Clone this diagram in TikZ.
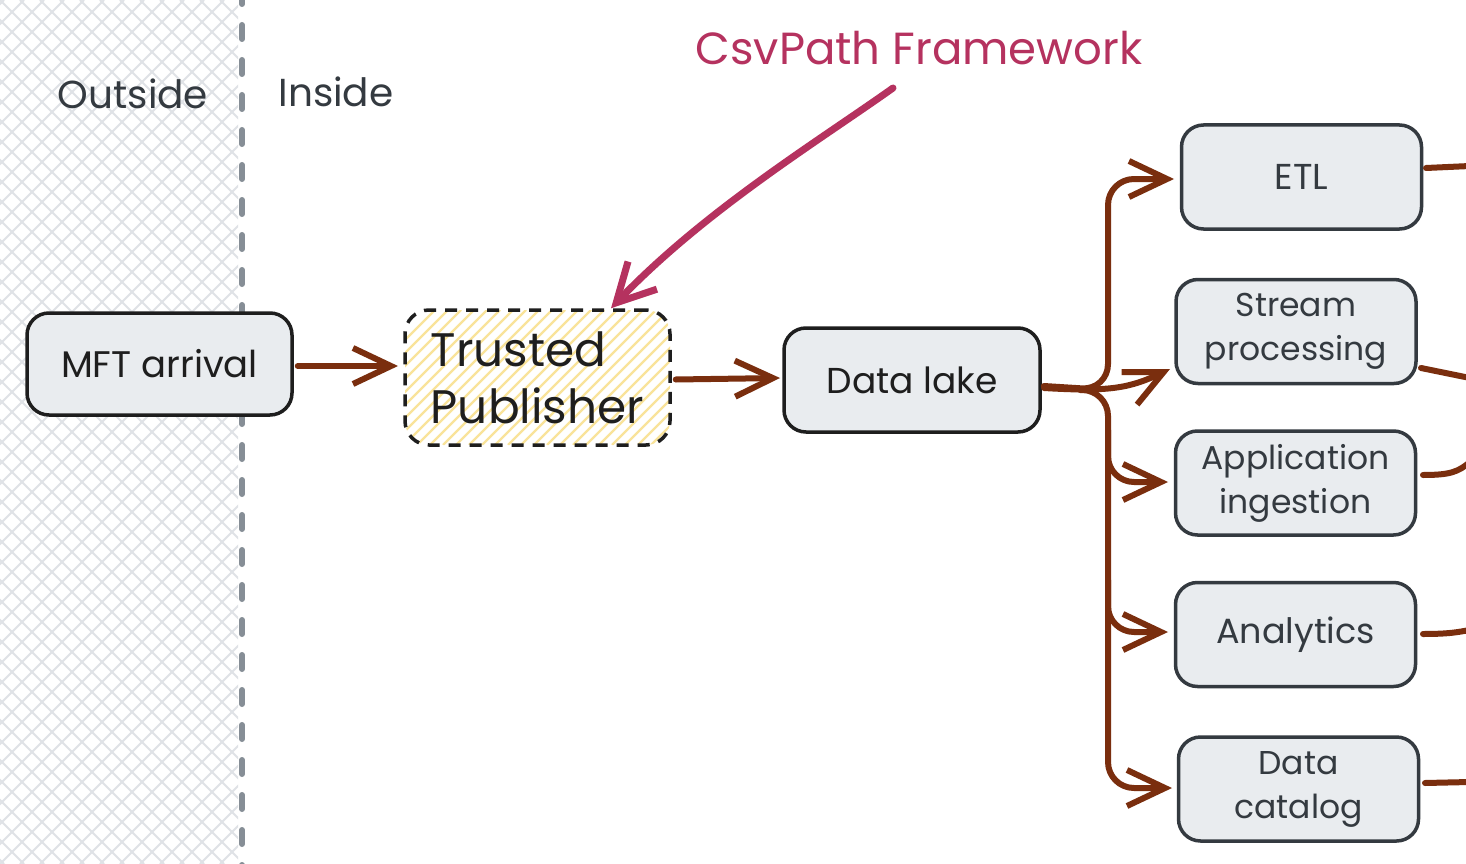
\documentclass[tikz,border=0pt]{standalone}
\usepackage{fontspec}
\setmainfont{Poppins}
\usetikzlibrary{arrows.meta}
\definecolor{boxfill}{HTML}{E9ECEF}
\definecolor{boxline}{HTML}{343A40}
\definecolor{darkline}{HTML}{1E1E1E}
\definecolor{flow}{HTML}{7A2E0E}
\definecolor{accent}{HTML}{B5325F}
\definecolor{hatchgray}{HTML}{DFE2E6}
\definecolor{sepgray}{HTML}{868E96}
\definecolor{hatchyellow}{HTML}{F9E39A}
\tikzset{
  box/.style={draw=boxline, fill=boxfill, line width=3.5pt, rounded corners=22pt,
    minimum width=240pt, minimum height=104pt, align=center, text=boxline,
    font=\fontsize{33}{44}\selectfont},
  flowline/.style={draw=flow, line width=6pt, line cap=round, line join=round,
    -{Straight Barb[length=38pt,width=36pt,line width=6pt]}},
  stub/.style={draw=flow, line width=6pt, line cap=round},
}
\begin{document}
\begin{tikzpicture}[x=1pt,y=-1pt]
\useasboundingbox (0,0) rectangle (1466,864);
\fill[white] (0,0) rectangle (1466,864);
% outside hatch
\begin{scope}
\clip (0,0) rectangle (238,864);
\foreach \i in {-880,-860,...,260} {
  \draw[hatchgray, line width=1.8pt] (\i,0) -- ++(864,864);
  \draw[hatchgray, line width=1.8pt] (\i+864,0) -- ++(-864,864);
}
\end{scope}
\draw[sepgray, line width=6pt, line cap=round, dash pattern=on 14pt off 21pt] (242,-10) -- (242,870);
\node[text=boxline, font=\fontsize{39}{44}\selectfont] (outside) at (133,94) {Outside};
\node[text=boxline, font=\fontsize{39}{44}\selectfont] (inside) at (336,92) {Inside};

% nodes
\node[box, draw=darkline, text=darkline, minimum width=265pt, minimum height=102pt,
  font=\fontsize{37}{44}\selectfont] (mft) at (159.5,364) {MFT arrival};
% trusted publisher
\begin{scope}
\clip[rounded corners=24pt] (405,310) rectangle (670,445);
\foreach \i in {300,313,...,720} {
  \draw[hatchyellow, line width=2.2pt] (\i,445) -- ++(135,-135);
}
\end{scope}
\node[draw=darkline, line width=3.5pt, dash pattern=on 12pt off 9pt, rounded corners=24pt,
  minimum width=265pt, minimum height=135pt, align=left, text=darkline,
  font=\fontsize{47}{57}\selectfont] (tp) at (537.5,377.5) {Trusted\\Publisher};
\node[box, draw=darkline, text=darkline, minimum width=256pt,
  font=\fontsize{36}{44}\selectfont] (dl) at (912,380) {Data lake};
\node[box, font=\fontsize{36}{44}\selectfont] (etl) at (1301.5,177) {ETL};
\node[box] (sp) at (1296,331.5) {Stream\\processing};
\node[box] (ai) at (1295.5,483) {Application\\ingestion};
\node[box, font=\fontsize{35}{44}\selectfont] (an) at (1295.5,634.5) {Analytics};
\node[box] (dc) at (1298.5,789) {Data\\catalog};

% annotation
\node[text=accent, font=\fontsize{45}{50}\selectfont] (csv) at (919,48) {CsvPath Framework};
\coordinate (csvstart) at (893,88);
\draw[accent, line width=7pt, line cap=round, line join=round,
  -{Straight Barb[length=38pt,width=40pt,line width=7pt]}]
  (csvstart) .. controls (820,140) and (705,210) .. (tp.north east -| 611,300);

% flows
\draw[flowline] (mft.east) ++(4,2) -- (398,366);
\draw[flowline] (tp.east) ++(4,2) -- (780,378);
\coordinate (fork) at (1108,390);
\draw[flowline, rounded corners=26pt] (dl.east) ++(2,6) -- (fork) -- (1108,179) -- (1174,179);
\draw[flowline] (1044,388) .. controls (1110,392) and (1130,388) .. (1170,369);
\draw[flowline, rounded corners=26pt] (1080,390) -- (fork) -- (1108,788) -- (1172,788);
\draw[flowline, rounded corners=26pt] (1108,430) -- (1108,482) -- (1168,482);
\draw[flowline, rounded corners=26pt] (1108,580) -- (1108,632) -- (1168,632);

% stubs off the right edge
\coordinate (e1) at (1470,166);
\coordinate (e2) at (1470,378);
\coordinate (e3) at (1470,462);
\coordinate (e4) at (1470,630);
\coordinate (e5) at (1470,782);
\draw[stub] (1426,168) -- (e1);
\draw[stub] (1421,368) -- (e2);
\draw[stub] (1423,475) .. controls (1450,475) and (1458,472) .. (e3);
\draw[stub] (1423,634) .. controls (1450,634) and (1458,632) .. (e4);
\draw[stub] (1425,783) -- (e5);
\end{tikzpicture}
\end{document}
